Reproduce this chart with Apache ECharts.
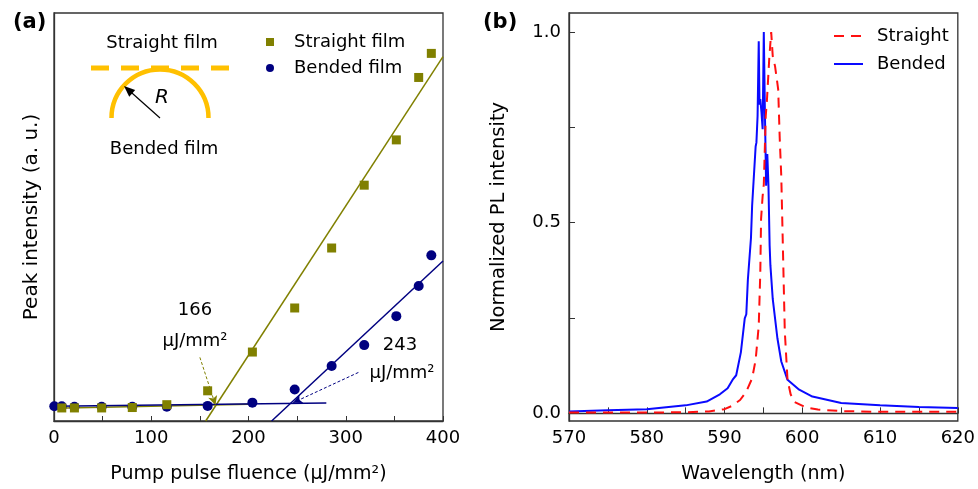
<!DOCTYPE html>
<html>
<head>
<meta charset="utf-8">
<script src="https://cdn.jsdelivr.net/npm/echarts@6.0.0/dist/echarts.min.js"></script>
<style>
  html, body { margin: 0; padding: 0; background: #fff; }
  #chart { width: 978px; height: 489px; }
</style>
</head>
<body>
<div id="chart"></div>
<script>
// (a) peak intensity vs pump fluence
const straightX = [8, 21, 49, 80.5, 116, 158, 204, 247.5, 285.5, 319, 352, 375, 388];
const straightY = [3.2, 3.2, 3.2, 3.3, 4.0, 7.4, 16.9, 27.7, 42.4, 57.8, 68.9, 84.2, 90.1];
const bendedX = [0.3, 8, 21, 49, 80.5, 116, 158, 204, 247.5, 285.5, 319, 352, 375, 388];
const bendedY = [3.6, 3.6, 3.5, 3.5, 3.5, 3.5, 3.7, 4.5, 7.7, 13.5, 18.6, 25.7, 33.1, 40.6];

// linear fits (end points)
const straightFitLow = [[0, 3.1], [200, 4.1]];
const straightFitHigh = [[156, 0], [400, 89.3]];
const bendedFitLow = [[0, 3.6], [280, 4.4]];
const bendedFitHigh = [[223.8, 0], [400, 39.2]];

// threshold arrows (tail, tip)
const straightArrow = [[150, 15.6], [166, 3.93]];
const bendedArrow = [[313, 11.9], [246, 4.5]];

// (b) normalized PL spectra
const bendedWl = [570, 575, 580, 585, 587.7, 589.4, 590.4, 591.1, 591.5, 592.1, 592.6, 592.8, 593.0, 593.4, 593.55, 593.7,
  594.0, 594.1, 594.25, 594.4, 594.5, 594.6, 594.75, 594.9, 595.05, 595.2, 595.35, 595.5, 595.65, 595.8, 595.9,
  596.2, 596.8, 597.3, 598.1, 599.6, 601.3, 605, 610, 615, 620];
const bendedI = [0.005, 0.008, 0.011, 0.021, 0.031, 0.05, 0.066, 0.09, 0.10, 0.16, 0.249, 0.26, 0.35, 0.46, 0.545, 0.55,
  0.70, 0.71, 0.78, 0.976, 0.81, 0.824, 0.79, 0.745, 1.0, 0.78, 0.597, 0.68, 0.597, 0.44, 0.388,
  0.30, 0.197, 0.136, 0.088, 0.062, 0.044, 0.027, 0.021, 0.017, 0.014];

const straightWl = [570, 575, 580, 585, 588, 590, 591, 592, 592.8, 593.55, 594.0, 594.4, 594.6, 594.7, 594.9, 595.05,
  595.3, 595.45, 595.75, 596.0, 596.2, 596.5, 596.9, 597.1, 597.3, 597.5, 597.75, 598.1, 598.5, 599.0,
  600.5, 602, 605, 610, 620];
const straightI = [0.002, 0.002, 0.002, 0.003, 0.005, 0.011, 0.02, 0.035, 0.057, 0.092, 0.14, 0.23, 0.37, 0.51, 0.57, 0.60,
  0.78, 0.82, 0.93, 1.0, 0.937, 0.91, 0.85, 0.72, 0.62, 0.44, 0.215, 0.088, 0.05, 0.03,
  0.015, 0.01, 0.006, 0.004, 0.004];

const yLabelsB = [0, 0.5, 1.0];
const yTicksB = [0, 0.25, 0.5, 0.75, 1.0];

const FONT = 'DejaVu Sans';
const OLIVE = '#808000';
const NAVY = '#000080';
const ORANGE = '#ffc000';

const pair = (xs, ys) => xs.map((x, i) => [x, ys[i]]);

const chart = echarts.init(document.getElementById('chart'), null, { renderer: 'canvas' });

// inset arrow head
const insetTail = [160, 118], insetTip = [124, 86];
const dx = insetTip[0] - insetTail[0], dy = insetTip[1] - insetTail[1];
const len = Math.sqrt(dx * dx + dy * dy);
const ux = dx / len, uy = dy / len;
const head = [
  insetTip,
  [insetTip[0] - ux * 11 - uy * 4.5, insetTip[1] - uy * 11 + ux * 4.5],
  [insetTip[0] - ux * 11 + uy * 4.5, insetTip[1] - uy * 11 - ux * 4.5]
];

const axisLineStyle = { color: '#333', width: 1.3 };

const option = {
  animation: false,
  textStyle: { fontFamily: FONT, color: '#000' },
  grid: [
    { left: 54, top: 13, width: 389, height: 409, show: true, borderColor: '#333', borderWidth: 1.3 },
    { left: 569, top: 13, width: 390, height: 409, show: true, borderColor: '#333', borderWidth: 1.3 }
  ],
  xAxis: [
    {
      gridIndex: 0, type: 'value', min: 0, max: 400, interval: 50,
      name: 'Pump pulse fluence (μJ/mm²)', nameLocation: 'middle', nameGap: 44,
      nameTextStyle: { fontSize: 19, fontFamily: FONT, color: '#000' },
      axisLine: { lineStyle: axisLineStyle },
      axisTick: { inside: true, length: 5, lineStyle: { color: '#333' } },
      axisLabel: {
        fontSize: 18, color: '#000', margin: 8,
        formatter: v => (v % 100 === 0 ? String(v) : '')
      },
      splitLine: { show: false }
    },
    {
      gridIndex: 1, type: 'value', min: 570, max: 620, interval: 10,
      name: 'Wavelength (nm)', nameLocation: 'middle', nameGap: 44,
      nameTextStyle: { fontSize: 19, fontFamily: FONT, color: '#000' },
      axisLine: { lineStyle: axisLineStyle },
      axisTick: { inside: true, length: 6, lineStyle: { color: '#333' } },
      minorTick: { show: true, splitNumber: 2, length: 6, lineStyle: { color: '#333' } },
      axisLabel: { fontSize: 18, color: '#000', margin: 8 },
      splitLine: { show: false }
    }
  ],
  yAxis: [
    {
      gridIndex: 0, type: 'value', min: 0, max: 100,
      name: 'Peak intensity (a. u.)', nameLocation: 'middle', nameGap: 12,
      nameTextStyle: { fontSize: 20, fontFamily: FONT, color: '#000' },
      axisLine: { lineStyle: axisLineStyle },
      axisTick: { show: false },
      axisLabel: { show: false },
      splitLine: { show: false }
    },
    {
      gridIndex: 1, type: 'value', min: -0.02, max: 1.05,
      name: 'Normalized PL intensity', nameLocation: 'middle', nameGap: 60,
      nameTextStyle: { fontSize: 19.5, fontFamily: FONT, color: '#000' },
      axisLine: { lineStyle: axisLineStyle },
      axisTick: { inside: true, length: 6, customValues: yTicksB, lineStyle: { color: '#333' } },
      axisLabel: { fontSize: 18, color: '#000', margin: 8, customValues: yLabelsB, formatter: v => v.toFixed(1) },
      splitLine: { show: false }
    }
  ],
  legend: [
    {
      data: ['Straight film', 'Bended film'],
      orient: 'vertical', left: 261, top: 28,
      itemWidth: 8, itemHeight: 8, itemGap: 8,
      textStyle: { fontSize: 18, fontFamily: FONT, color: '#000', padding: [0, 0, 0, 15] }
    },
    {
      data: ['Straight', 'Bended'],
      orient: 'vertical', left: 828, top: 22,
      itemWidth: 29, itemHeight: 14, itemGap: 10,
      itemStyle: { opacity: 0 },
      textStyle: { fontSize: 18, fontFamily: FONT, color: '#000', padding: [0, 0, 0, 9] }
    }
  ],
  series: [
    {
      name: 'Bended film', type: 'scatter', xAxisIndex: 0, yAxisIndex: 0,
      symbol: 'circle', symbolSize: 10, itemStyle: { color: NAVY, opacity: 1 }, z: 3,
      data: pair(bendedX, bendedY)
    },
    {
      name: 'Straight film', type: 'scatter', xAxisIndex: 0, yAxisIndex: 0,
      symbol: 'rect', symbolSize: 9, itemStyle: { color: OLIVE, opacity: 1 }, z: 4,
      data: pair(straightX, straightY)
    },
    {
      name: 'fitS1', type: 'line', xAxisIndex: 0, yAxisIndex: 0, symbol: 'none', z: 2,
      lineStyle: { color: OLIVE, width: 1.5 }, data: straightFitLow
    },
    {
      name: 'fitS2', type: 'line', xAxisIndex: 0, yAxisIndex: 0, symbol: 'none', z: 2,
      lineStyle: { color: OLIVE, width: 1.5 }, data: straightFitHigh,
      markLine: {
        silent: true, symbol: ['none', 'arrow'], symbolSize: [7, 9], label: { show: false },
        lineStyle: { color: OLIVE, width: 1, type: [3, 2] },
        data: [[{ coord: straightArrow[0] }, { coord: straightArrow[1] }]]
      }
    },
    {
      name: 'fitB1', type: 'line', xAxisIndex: 0, yAxisIndex: 0, symbol: 'none', z: 2,
      lineStyle: { color: NAVY, width: 1.5 }, data: bendedFitLow
    },
    {
      name: 'fitB2', type: 'line', xAxisIndex: 0, yAxisIndex: 0, symbol: 'none', z: 2,
      lineStyle: { color: NAVY, width: 1.5 }, data: bendedFitHigh,
      markLine: {
        silent: true, symbol: ['none', 'arrow'], symbolSize: [7, 9], label: { show: false },
        lineStyle: { color: NAVY, width: 1, type: [3, 2] },
        data: [[{ coord: bendedArrow[0] }, { coord: bendedArrow[1] }]]
      }
    },
    {
      name: 'Bended', type: 'line', xAxisIndex: 1, yAxisIndex: 1, symbol: 'none',
      lineStyle: { color: '#0a0aff', width: 2 }, itemStyle: { color: '#0a0aff' },
      data: pair(bendedWl, bendedI)
    },
    {
      name: 'Straight', type: 'line', xAxisIndex: 1, yAxisIndex: 1, symbol: 'none',
      lineStyle: { color: '#ff1010', width: 2, type: [10, 7] }, itemStyle: { color: '#ff1010' },
      data: pair(straightWl, straightI)
    }
  ],
  graphic: [
    { type: 'text', left: 13, top: 12, style: { text: '(a)', font: 'bold 21px "DejaVu Sans"', fill: '#000' } },
    { type: 'text', left: 483, top: 12, style: { text: '(b)', font: 'bold 21px "DejaVu Sans"', fill: '#000' } },
    // inset schematic
    { type: 'text', x: 162, y: 43, style: { text: 'Straight film', font: '18px "DejaVu Sans"', fill: '#000', align: 'center', verticalAlign: 'middle' } },
    { type: 'text', x: 164, y: 149, style: { text: 'Bended film', font: '18px "DejaVu Sans"', fill: '#000', align: 'center', verticalAlign: 'middle' } },
    { type: 'line', shape: { x1: 91, y1: 68, x2: 234, y2: 68 }, style: { stroke: ORANGE, lineWidth: 5, lineDash: [18, 12] } },
    { type: 'arc', shape: { cx: 160, cy: 118, r: 48.5, startAngle: Math.PI, endAngle: 2 * Math.PI, clockwise: true }, style: { stroke: ORANGE, lineWidth: 4.5, fill: null } },
    { type: 'line', shape: { x1: insetTail[0], y1: insetTail[1], x2: insetTip[0] - ux * 8, y2: insetTip[1] - uy * 8 }, style: { stroke: '#000', lineWidth: 1.2 } },
    { type: 'polygon', shape: { points: head }, style: { fill: '#000' } },
    { type: 'text', x: 162, y: 98, style: { text: 'R', font: 'italic 20px "DejaVu Sans"', fill: '#000', align: 'center', verticalAlign: 'middle' } },
    // threshold labels
    { type: 'text', x: 195, y: 310, style: { text: '166', font: '18px "DejaVu Sans"', fill: '#000', align: 'center', verticalAlign: 'middle' } },
    { type: 'text', x: 195, y: 341, style: { text: 'μJ/mm²', font: '18px "DejaVu Sans"', fill: '#000', align: 'center', verticalAlign: 'middle' } },
    { type: 'text', x: 400, y: 345, style: { text: '243', font: '18px "DejaVu Sans"', fill: '#000', align: 'center', verticalAlign: 'middle' } },
    { type: 'text', x: 402, y: 373, style: { text: 'μJ/mm²', font: '18px "DejaVu Sans"', fill: '#000', align: 'center', verticalAlign: 'middle' } }
  ]
};

chart.setOption(option);
</script>
</body>
</html>
